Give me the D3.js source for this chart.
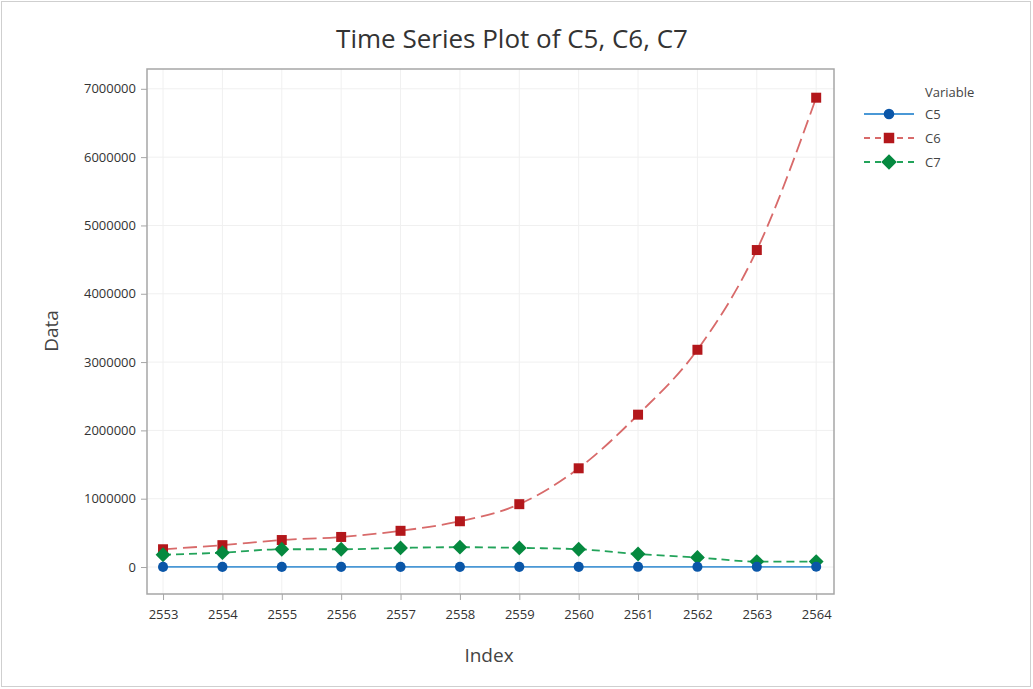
<!DOCTYPE html>
<html><head><meta charset="utf-8">
<script src="https://cdn.jsdelivr.net/npm/d3@7"></script>
<style>body{margin:0;background:#fff;} svg{display:block;font-family:"Open Sans","Noto Sans",sans-serif;}</style>
</head><body><svg id="c" width="1033" height="689"></svg>
<script>
const index = [2553,2554,2555,2556,2557,2558,2559,2560,2561,2562,2563,2564];
const c5 = [2000,2100,2200,2300,2400,2500,2600,2700,2800,2900,3000,3100];
const c6 = [260000,320000,395000,440000,530000,670000,920000,1445000,2230000,3180000,4640000,6870000];
const c7 = [180000,210000,260000,260000,280000,290000,280000,260000,190000,140000,80000,80000];
const yTicks = [0,1000000,2000000,3000000,4000000,5000000,6000000,7000000];
const seriesNames = ["C5","C6","C7"];

const svg = d3.select("#c");
svg.append("rect").attr("x",1.5).attr("y",1.5).attr("width",1029).attr("height",685)
  .attr("fill","#fff").attr("stroke","#cfcfcf");

const L=147,R=834,T=69,B=594;
const x = d3.scaleLinear().domain([2552.73,2564.3]).range([L,R]);
const y = d3.scaleLinear().domain([-395000,7290000]).range([B,T]);

// gridlines
const g = svg.append("g");
g.selectAll(".gx").data(index).join("line").attr("x1",d=>x(d)).attr("x2",d=>x(d))
  .attr("y1",T).attr("y2",B).attr("stroke","#f0f0f0");
g.selectAll(".gy").data(yTicks).join("line").attr("y1",d=>y(d)).attr("y2",d=>y(d))
  .attr("x1",L).attr("x2",R).attr("stroke","#f0f0f0");

// axes
const xa = svg.append("g").attr("transform",`translate(0,${B})`)
  .call(d3.axisBottom(x).tickValues(index).tickFormat(d3.format("d")).tickSize(6).tickSizeOuter(0));
const ya = svg.append("g").attr("transform",`translate(${L},0)`)
  .call(d3.axisLeft(y).tickValues(yTicks).tickFormat(d3.format("d")).tickSize(6).tickSizeOuter(0));
[xa,ya].forEach(a=>{
  a.select(".domain").remove();
  a.selectAll("line").attr("stroke","#a6a6a6");
  a.selectAll("text").attr("fill","#333").style("font-size","13px").style("font-family","'Open Sans','Noto Sans',sans-serif");
});
xa.selectAll("text").attr("dy","1.2em");
ya.selectAll("text").attr("dx","-2");

// frame
svg.append("rect").attr("x",L).attr("y",T).attr("width",R-L).attr("height",B-T)
  .attr("fill","none").attr("stroke","#a6a6a6").attr("stroke-width",1.5);

// square-diamond symbol (equal width and height)
const squareDiamond = {draw(ctx,size){const r=Math.sqrt(size/2);ctx.moveTo(0,-r);ctx.lineTo(r,0);ctx.lineTo(0,r);ctx.lineTo(-r,0);ctx.closePath();}};

const styles = {
  C5:{data:c5,line:"#4a98d6",mark:"#0a56a8",dash:null,shape:d3.symbolCircle,size:80},
  C6:{data:c6,line:"#d86a6a",mark:"#b3171b",dash:"14,6",shape:d3.symbolSquare,size:100},
  C7:{data:c7,line:"#22a35a",mark:"#05893f",dash:"8,5",shape:squareDiamond,size:110}
};
const lineGen = d3.line().x((d,i)=>x(index[i])).y(d=>y(d)).curve(d3.curveMonotoneX);
["C6","C7","C5"].forEach(n=>{
  const s=styles[n];
  svg.append("path").datum(s.data).attr("d",lineGen).attr("fill","none")
    .attr("stroke",s.line).attr("stroke-width",1.8).attr("stroke-dasharray",s.dash);
  svg.selectAll(".m"+n).data(s.data).join("path")
    .attr("transform",(d,i)=>`translate(${x(index[i])},${y(d)})`)
    .attr("d",d3.symbol().type(s.shape).size(s.size)).attr("fill",s.mark);
});

// title and axis labels
svg.append("text").attr("x",512).attr("y",48).attr("text-anchor","middle")
  .attr("fill","#333").style("font-size","26px").text("Time Series Plot of C5, C6, C7");
svg.append("text").attr("x",489).attr("y",662).attr("text-anchor","middle")
  .attr("fill","#444").style("font-size","19px").text("Index");
svg.append("text").attr("transform","translate(58,331) rotate(-90)").attr("text-anchor","middle")
  .attr("fill","#444").style("font-size","19px").text("Data");

// legend
const lg = svg.append("g");
lg.append("text").attr("x",925).attr("y",97).attr("fill","#444").style("font-size","13px").text("Variable");
seriesNames.forEach((n,i)=>{
  const s=styles[n], yy=114+i*24;
  lg.append("line").attr("x1",864).attr("x2",914).attr("y1",yy).attr("y2",yy)
    .attr("stroke",s.line).attr("stroke-width",1.8).attr("stroke-dasharray",s.dash?"6,5":null);
  lg.append("path").attr("transform",`translate(889,${yy})`)
    .attr("d",d3.symbol().type(s.shape).size(s.size*1.1)).attr("fill",s.mark);
  lg.append("text").attr("x",925).attr("y",yy+5).attr("fill","#444").style("font-size","13px").text(n);
});
</script></body></html>
